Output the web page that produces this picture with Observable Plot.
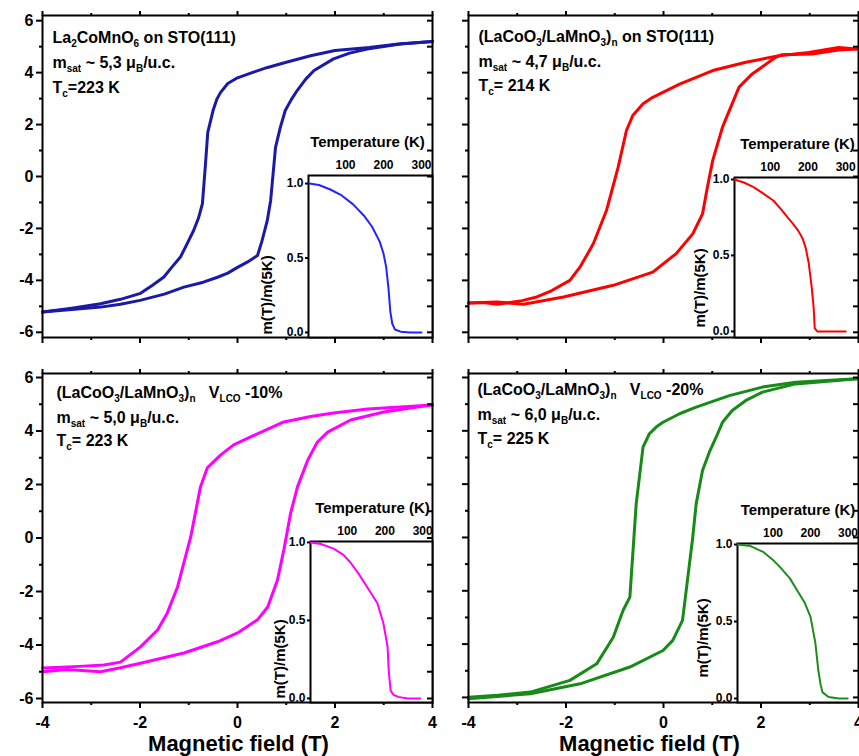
<!DOCTYPE html>
<html>
<head>
<meta charset="utf-8">
<script src="https://cdn.jsdelivr.net/npm/d3@7"></script>
<script src="https://cdn.jsdelivr.net/npm/@observablehq/plot@0.6"></script>
<style>
  body { margin: 0; background: #fff; }
  #fig { position: relative; width: 859px; height: 756px; overflow: hidden; background: #fff; }
  #fig svg { position: absolute; left: 0; top: 0; }
</style>
</head>
<body>
<div id="fig"></div>
<script>
// ---------- La2CoMnO6 on STO(111) ----------
const lcmoDownH = [4.0, 3.3, 2.7, 2.0, 1.5, 1.0, 0.6, 0.3, 0.0, -0.2, -0.35, -0.42, -0.5, -0.61, -0.66, -0.72, -0.8, -0.9, -1.05, -1.17, -1.35, -1.51, -1.75, -1.99, -2.4, -2.81, -3.4, -4.0];
const lcmoDownM = [5.2, 5.1, 4.97, 4.85, 4.65, 4.4, 4.19, 4.0, 3.8, 3.58, 3.23, 2.99, 2.55, 1.7, 0.4, -1.05, -1.6, -2.08, -2.65, -3.1, -3.5, -3.87, -4.2, -4.5, -4.73, -4.9, -5.07, -5.22];
const lcmoUpH = [-4.0, -3.4, -2.81, -2.4, -2.0, -1.5, -1.1, -0.7, -0.41, -0.2, 0.0, 0.2, 0.41, 0.5, 0.61, 0.68, 0.78, 0.88, 0.98, 1.1, 1.22, 1.4, 1.57, 1.97, 2.3, 2.66, 3.34, 4.0];
const lcmoUpM = [-5.22, -5.12, -5.03, -4.92, -4.77, -4.53, -4.26, -4.07, -3.88, -3.72, -3.5, -3.3, -3.04, -2.5, -1.7, -0.92, 1.12, 1.9, 2.54, 2.95, 3.3, 3.75, 4.08, 4.53, 4.75, 4.91, 5.1, 5.2];
const lcmoT = [5, 30, 60, 90, 120, 150, 170, 190, 200, 207, 213, 218, 223, 230, 245, 270, 300];
const lcmoRatio = [1.0, 0.99, 0.96, 0.92, 0.86, 0.78, 0.71, 0.61, 0.53, 0.44, 0.30, 0.14, 0.06, 0.02, 0.005, 0, 0];
const lcmoNotes = ["La_{2}CoMnO_{6} on STO(111)", "m_{sat} ~ 5,3 μ_{B}/u.c.", "T_{c}=223 K"];

// ---------- (LaCoO3/LaMnO3)n on STO(111) ----------
const slDownH = [3.97, 3.59, 2.98, 2.37, 1.69, 1.01, 0.33, -0.22, -0.42, -0.63, -0.76, -0.93, -1.17, -1.44, -1.7, -1.92, -2.3, -2.6, -2.9, -3.08, -3.41, -3.7, -4.0];
const slDownM = [4.91, 4.97, 4.78, 4.65, 4.40, 4.08, 3.56, 3.05, 2.8, 2.35, 1.77, 0.36, -1.31, -2.59, -3.45, -4.0, -4.4, -4.64, -4.78, -4.83, -4.92, -4.85, -4.87];
const slUpH = [-4.0, -3.41, -2.87, -2.05, -1.03, -0.22, 0.26, 0.6, 0.8, 0.9, 1.01, 1.21, 1.55, 1.82, 2.3, 2.43, 3.05, 3.59, 3.97];
const slUpM = [-4.87, -4.83, -4.92, -4.64, -4.19, -3.68, -2.97, -2.21, -1.44, -0.41, 0.62, 1.9, 3.44, 3.95, 4.59, 4.69, 4.72, 4.87, 4.91];
const slT = [5, 30, 56, 80, 109, 130, 146, 160, 175, 186, 194, 202, 210, 215, 218, 225, 260, 300];
const slRatio = [1.0, 0.98, 0.95, 0.91, 0.86, 0.80, 0.75, 0.71, 0.66, 0.61, 0.55, 0.45, 0.29, 0.16, 0.02, 0.0, 0.0, 0.0];
const slNotes = ["(LaCoO_{3}/LaMnO_{3})_{n} on STO(111)", "m_{sat} ~ 4,7 μ_{B}/u.c.", "T_{c}= 214 K"];

// ---------- (LaCoO3/LaMnO3)n, V_LCO -10% ----------
const v10DownH = [4.0, 3.34, 2.67, 1.97, 1.5, 0.95, 0.27, -0.08, -0.35, -0.62, -0.76, -0.96, -1.23, -1.44, -1.64, -1.99, -2.4, -2.74, -3.16, -3.6, -4.0];
const v10DownM = [4.97, 4.9, 4.82, 4.67, 4.54, 4.34, 3.78, 3.48, 3.1, 2.62, 1.91, 0.04, -1.83, -2.8, -3.44, -4.07, -4.64, -4.75, -4.79, -4.83, -4.86];
const v10UpH = [-4.0, -3.49, -2.81, -2.4, -1.99, -1.1, -0.41, 0.0, 0.41, 0.62, 0.82, 0.95, 1.09, 1.23, 1.44, 1.64, 1.85, 2.32, 3.0, 3.69, 4.0];
const v10UpM = [-5.0, -4.92, -5.0, -4.85, -4.68, -4.3, -3.88, -3.55, -3.06, -2.58, -1.57, -0.45, 0.93, 1.91, 2.91, 3.59, 3.96, 4.41, 4.71, 4.9, 4.97];
const v10T = [3, 30, 64, 90, 109, 130, 154, 180, 196, 207, 210, 215, 222, 235, 260, 294];
const v10Ratio = [1.0, 0.99, 0.96, 0.92, 0.87, 0.80, 0.71, 0.61, 0.48, 0.33, 0.18, 0.05, 0.025, 0.01, 0.0, 0.0];
const v10Notes = ["(LaCoO_{3}/LaMnO_{3})_{n}   V_{LCO} -10%", "m_{sat} ~ 5,0 μ_{B}/u.c.", "T_{c}= 223 K"];

// ---------- (LaCoO3/LaMnO3)n, V_LCO -20% ----------
const v20DownH = [3.97, 2.71, 2.03, 1.35, 0.67, 0.33, -0.01, -0.15, -0.29, -0.42, -0.56, -0.69, -0.83, -1.03, -1.37, -1.92, -2.73, -3.4, -4.0];
const v20DownM = [5.95, 5.82, 5.64, 5.32, 4.89, 4.64, 4.32, 4.14, 3.89, 3.39, 1.26, -2.24, -2.74, -3.74, -4.74, -5.36, -5.8, -5.92, -5.99];
const v20UpH = [-4.0, -2.73, -1.71, -0.69, -0.01, 0.19, 0.39, 0.6, 0.67, 0.8, 0.94, 1.08, 1.21, 1.41, 1.69, 2.03, 2.71, 3.97];
const v20UpM = [-6.05, -5.86, -5.49, -4.86, -4.24, -3.86, -3.11, 0.01, 1.26, 2.51, 3.2, 3.76, 4.32, 4.76, 5.14, 5.45, 5.76, 5.95];
const v20T = [5, 40, 75, 100, 120, 145, 165, 185, 200, 213, 221, 227, 232, 248, 275, 299];
const v20Ratio = [1.0, 0.99, 0.95, 0.9, 0.85, 0.78, 0.7, 0.62, 0.53, 0.36, 0.18, 0.09, 0.04, 0.01, 0.0, 0.0];
const v20Notes = ["(LaCoO_{3}/LaMnO_{3})_{n}   V_{LCO} -20%", "m_{sat} ~ 6,0 μ_{B}/u.c.", "T_{c}= 225 K"];

// ---------- ticks and titles ----------
const fieldTicks = [-4, -2, 0, 2, 4];
const fieldMinor = [-3, -1, 1, 3];
const momentTicks = [-6, -4, -2, 0, 2, 4, 6];
const momentMinor = [-5, -3, -1, 1, 3, 5];
const momentAll = [-6, -5, -4, -3, -2, -1, 0, 1, 2, 3, 4, 5, 6];
const tempTicks = [100, 200, 300];
const ratioTicks = [0, 0.5, 1];
const fieldTitle = "Magnetic field (T)";
const tempTitle = "Temperature (K)";
const ratioTitle = "m(T)/m(5K)";

// ---------- series bundles ----------
const series = [
  {downH: lcmoDownH, downM: lcmoDownM, upH: lcmoUpH, upM: lcmoUpM, T: lcmoT, ratio: lcmoRatio, notes: lcmoNotes, color: "#1a1aa6", insetColor: "#2323ff"},
  {downH: slDownH, downM: slDownM, upH: slUpH, upM: slUpM, T: slT, ratio: slRatio, notes: slNotes, color: "#ff0000", insetColor: "#ff0000"},
  {downH: v10DownH, downM: v10DownM, upH: v10UpH, upM: v10UpM, T: v10T, ratio: v10Ratio, notes: v10Notes, color: "#ff00ff", insetColor: "#ff00ff"},
  {downH: v20DownH, downM: v20DownM, upH: v20UpH, upM: v20UpM, T: v20T, ratio: v20Ratio, notes: v20Notes, color: "#178a17", insetColor: "#1c8c1c"}
];

// ---------- page layout (pixels) ----------
const W = 859, HT = 756;
const layout = [
  {left: 42, right: 432, top: 15, bottom: 337, yDomain: [-6.2, 6.2], yLabels: true, xLabels: false,
   noteDx: 10, noteDy: [27, 52, 77], titleDx: 0,
   inset: {left: 308, top: 175, tDomain: [2.6, 329], mDomain: [-0.034, 1.054], labelDx: -41, labelDy: -3, titleDx: -3}},
  {left: 468, right: 858, top: 15, bottom: 337, yDomain: [-6.2, 6.2], yLabels: false, xLabels: false,
   noteDx: 10, noteDy: [26, 51, 75], titleDx: 0,
   inset: {left: 734, top: 177, tDomain: [5.3, 334], mDomain: [-0.04, 1.013], labelDx: -34, labelDy: -10, titleDx: 1}},
  {left: 42, right: 432, top: 373, bottom: 702, yDomain: [-6.15, 6.15], yLabels: true, xLabels: true,
   noteDx: 14, noteDy: [24, 49, 72], titleDx: 1,
   inset: {left: 310, top: 541, tDomain: [2.7, 326], mDomain: [-0.026, 1.006], labelDx: -30, labelDy: -4, titleDx: 1}},
  {left: 468, right: 858, top: 373, bottom: 702, yDomain: [-6.19, 6.15], yLabels: false, xLabels: true,
   noteDx: 9, noteDy: [21, 46, 70], titleDx: -14,
   inset: {left: 737, top: 543, tDomain: [5.3, 328], mDomain: [-0.026, 1.0065], labelDx: -34, labelDy: -25, titleDx: 0}}
];

const baseStyle = {background: "transparent", fontFamily: "'Liberation Sans', Arial, sans-serif", overflow: "visible", color: "black"};
const blank = () => "";
const bold = {fontWeight: "bold", fill: "black"};

// Turns "_{...}" markup inside text elements into lowered, smaller tspans.
function withSubscripts(svg) {
  for (const t of svg.querySelectorAll("text")) {
    const s = t.textContent;
    if (!s.includes("_{")) continue;
    t.textContent = "";
    t.style.whiteSpace = "pre";
    let shift = 0;
    for (const part of s.split(/(_\{[^}]*\})/)) {
      if (!part) continue;
      const span = document.createElementNS("http://www.w3.org/2000/svg", "tspan");
      const isSub = part.startsWith("_{");
      span.textContent = isSub ? part.slice(2, -1) : part;
      if (isSub) span.setAttribute("font-size", "10");
      const target = isSub ? 4 : 0;
      if (target !== shift) { span.setAttribute("dy", target - shift); shift = target; }
      t.appendChild(span);
    }
  }
  return svg;
}

// Hysteresis loop M(H) with frame, ticks, tick labels and annotations.
function loopPlot(L, S) {
  const down = S.downH.map((H, i) => ({H, M: S.downM[i]}));
  const up = S.upH.map((H, i) => ({H, M: S.upM[i]}));
  const tk = {strokeWidth: 2, label: null, tickFormat: blank};
  return Plot.plot({
    width: W, height: HT,
    marginLeft: L.left, marginRight: W - L.right, marginTop: L.top, marginBottom: HT - L.bottom,
    x: {domain: [-4, 4], label: null},
    y: {domain: L.yDomain, label: null},
    style: baseStyle,
    marks: [
      Plot.line(down, {x: "H", y: "M", stroke: S.color, strokeWidth: 3, strokeLinejoin: "round"}),
      Plot.line(up, {x: "H", y: "M", stroke: S.color, strokeWidth: 3, strokeLinejoin: "round"}),
      Plot.frame({stroke: "black", strokeWidth: 2}),
      Plot.axisX({anchor: "bottom", ticks: fieldTicks, tickSize: 6, ...tk}),
      Plot.axisX({anchor: "bottom", ticks: fieldMinor, tickSize: 3, ...tk}),
      Plot.axisX({anchor: "top", ticks: fieldTicks, tickSize: 5, ...tk}),
      Plot.axisX({anchor: "top", ticks: fieldMinor, tickSize: 3, ...tk}),
      Plot.axisY({anchor: "left", ticks: momentTicks, tickSize: 6, ...tk}),
      Plot.axisY({anchor: "left", ticks: momentMinor, tickSize: 3, ...tk}),
      L.xLabels ? Plot.text(fieldTicks, {x: d => d, text: d => String(d), frameAnchor: "bottom", lineAnchor: "bottom",
        dy: 25, fontSize: 16, ...bold}) : null,
      L.yLabels ? Plot.text(momentTicks, {y: d => d, text: d => String(d), frameAnchor: "left", textAnchor: "end",
        lineAnchor: "middle", dx: -9, fontSize: 16, ...bold}) : null,
      ...S.notes.map((s, k) => Plot.text([s], {text: d => d, frameAnchor: "top-left", textAnchor: "start",
        lineAnchor: "bottom", dx: L.noteDx, dy: L.noteDy[k], fontSize: 16, ...bold})),
      L.xLabels ? Plot.text([fieldTitle], {text: d => d, frameAnchor: "bottom", lineAnchor: "bottom",
        dx: L.titleDx, dy: 48, fontSize: 22, ...bold}) : null
    ]
  });
}

// Inset: normalised magnetisation m(T)/m(5K) against temperature.
function insetPlot(L, S) {
  const I = L.inset;
  const pts = S.T.map((T, i) => ({T, m: S.ratio[i]}));
  return Plot.plot({
    width: W, height: HT,
    marginLeft: I.left, marginRight: W - L.right, marginTop: I.top, marginBottom: HT - L.bottom,
    x: {domain: I.tDomain, label: null, axis: null},
    y: {domain: I.mDomain, label: null},
    style: baseStyle,
    marks: [
      Plot.frame({fill: "white", stroke: "black", strokeWidth: 2}),
      Plot.line(pts, {x: "T", y: "m", stroke: S.insetColor, strokeWidth: 2, strokeLinejoin: "round"}),
      Plot.axisY({anchor: "left", ticks: ratioTicks, tickSize: 3, strokeWidth: 2, tickFormat: blank, label: null}),
      Plot.text(tempTicks, {x: d => d, text: d => String(d), frameAnchor: "top", lineAnchor: "bottom", dy: -7,
        fontSize: 12, ...bold}),
      Plot.text(ratioTicks, {y: d => d, text: d => d.toFixed(1), frameAnchor: "left", textAnchor: "end",
        lineAnchor: "middle", dx: -5, fontSize: 12, ...bold}),
      Plot.text([tempTitle], {text: d => d, frameAnchor: "top", lineAnchor: "middle", dx: I.titleDx, dy: -33,
        fontSize: 15, ...bold}),
      Plot.text([ratioTitle], {text: d => d, frameAnchor: "bottom-left", rotate: -90, textAnchor: "start",
        lineAnchor: "middle", dx: I.labelDx, dy: I.labelDy, fontSize: 15, ...bold})
    ]
  });
}

// Inward ticks along the right edge of each loop frame, drawn above the inset.
function rightTicks(L) {
  const span = L.right - L.left;
  return Plot.plot({
    width: W, height: HT,
    marginLeft: L.left, marginRight: W - L.right, marginTop: L.top, marginBottom: HT - L.bottom,
    x: {domain: [-4, 4], axis: null},
    y: {domain: L.yDomain, axis: null},
    style: baseStyle,
    marks: [
      Plot.tickY(momentAll, {y: d => d, insetLeft: span - 5, stroke: "black", strokeWidth: 2})
    ]
  });
}

const fig = document.getElementById("fig");
layout.forEach((L, i) => {
  const S = series[i];
  fig.appendChild(withSubscripts(loopPlot(L, S)));
  fig.appendChild(insetPlot(L, S));
  fig.appendChild(rightTicks(L));
});
</script>
</body>
</html>
